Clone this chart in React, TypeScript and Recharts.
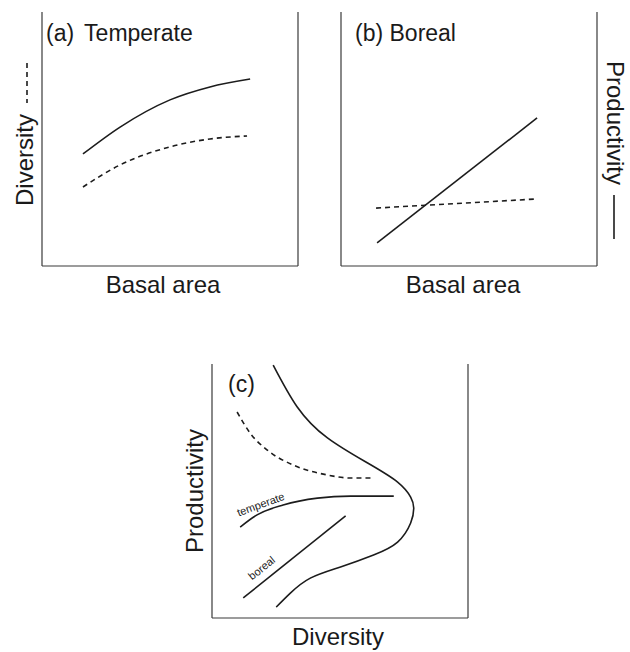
import React from "react";
import { LineChart, Line, XAxis, YAxis, ReferenceLine } from "recharts";

// panel (a) temperate – basal area on x, 0..100 scale
const tempBasal = [16.0, 30.5, 50.0, 65.6, 81.3];
const tempProductivity = [44.1, 54.7, 65.4, 70.5, 73.6];
const tempDivBasal = [16.0, 30.5, 50.0, 65.6, 80.1];
const tempDiversity = [31.1, 39.8, 46.9, 50.0, 51.2];

// panel (b) boreal
const borealBasal = [14.1, 76.6];
const borealProductivity = [9.1, 58.3];
const borealDivBasal = [13.7, 76.6];
const borealDiversity = [22.8, 26.4];

// panel (c) diversity (x) vs productivity (y)
const envDiversity = [23.9, 33.3, 45.1, 60.8, 72.5, 77.6, 78.8, 77.6, 72.5, 63.1, 50.2, 38.4, 30.6, 25.1];
const envProductivity = [99.6, 83.1, 70.9, 61.0, 53.5, 47.6, 43.3, 37.4, 29.9, 24.8, 20.1, 15.7, 9.8, 4.3];
const dashDiversity = [9.8, 14.9, 21.6, 31.8, 45.1, 54.1, 63.1];
const dashProductivity = [81.1, 72.8, 66.1, 60.2, 56.3, 55.1, 55.1];
const cTempDiversity = [11.0, 17.6, 27.8, 41.2, 54.1, 71.0];
const cTempProductivity = [35.8, 40.6, 44.5, 47.2, 48.0, 48.0];
const cBorealDiversity = [12.2, 52.2];
const cBorealProductivity = [7.9, 40.2];

const zip = (xs: number[], ys: number[]) => xs.map((x, i) => ({ x, y: ys[i] }));

const AXIS = "#3a3a3a";
const INK = "#1c1c1c";

type Series = {
  data: { x: number; y: number }[];
  dashed?: boolean;
  curve: "natural" | "linear" | "monotone";
};

function Panel({ left, top, series }: { left: number; top: number; series: Series[] }) {
  return (
    <div style={{ position: "absolute", left, top }}>
      <LineChart width={310} height={300} margin={{ top: 12, left: 42, right: 12, bottom: 34 }}>
        <XAxis type="number" dataKey="x" domain={[0, 100]} allowDataOverflow hide />
        <YAxis type="number" dataKey="y" domain={[0, 100]} allowDataOverflow hide />
        <ReferenceLine x={0} stroke={AXIS} strokeWidth={1.2} />
        <ReferenceLine x={100} stroke={AXIS} strokeWidth={1.2} />
        <ReferenceLine y={0} stroke={AXIS} strokeWidth={1.2} />
        {series.map((s, i) => (
          <Line
            key={i}
            data={s.data}
            dataKey="y"
            type={s.curve}
            stroke={INK}
            strokeWidth={1.6}
            strokeDasharray={s.dashed ? "5 4" : undefined}
            dot={false}
            activeDot={false}
            isAnimationActive={false}
          />
        ))}
      </LineChart>
    </div>
  );
}

export default function App() {
  const font = "'Liberation Sans', Arial, sans-serif";
  return (
    <div style={{ position: "absolute", left: 0, top: 0, width: 630, height: 652, background: "#fff", fontFamily: font }}>
      <Panel
        left={0}
        top={0}
        series={[
          { data: zip(tempBasal, tempProductivity), curve: "monotone" },
          { data: zip(tempDivBasal, tempDiversity), curve: "monotone", dashed: true },
        ]}
      />
      <Panel
        left={299}
        top={0}
        series={[
          { data: zip(borealBasal, borealProductivity), curve: "linear" },
          { data: zip(borealDivBasal, borealDiversity), curve: "linear", dashed: true },
        ]}
      />
      <Panel
        left={170}
        top={352}
        series={[
          // the envelope folds back on itself, so it needs a parametric curve
          { data: zip(envDiversity, envProductivity), curve: "natural" },
          { data: zip(dashDiversity, dashProductivity), curve: "monotone", dashed: true },
          { data: zip(cTempDiversity, cTempProductivity), curve: "monotone" },
          { data: zip(cBorealDiversity, cBorealProductivity), curve: "linear" },
        ]}
      />
      <svg width={630} height={652} style={{ position: "absolute", left: 0, top: 0, pointerEvents: "none" }} fontFamily={font} fill="#1a1a1a">
        <text x={46} y={41} fontSize={23} wordSpacing={4}>(a) Temperate</text>
        <text x={355} y={41} fontSize={23}>(b) Boreal</text>
        <text x={228} y={392} fontSize={23}>(c)</text>

        <text x={163} y={293} fontSize={24} textAnchor="middle">Basal area</text>
        <text x={463} y={293} fontSize={24} textAnchor="middle">Basal area</text>
        <text x={338} y={645} fontSize={24} textAnchor="middle">Diversity</text>

        <text transform="translate(33,160) rotate(-90)" fontSize={24} textAnchor="middle">Diversity</text>
        <line x1={27} y1={63} x2={27} y2={103} stroke={INK} strokeWidth={1.6} strokeDasharray="5 4" />

        <text transform="translate(607,123) rotate(90)" fontSize={24} textAnchor="middle">Productivity</text>
        <line x1={614} y1={195} x2={614} y2={239} stroke={INK} strokeWidth={1.6} />

        <text transform="translate(203,491) rotate(-90)" fontSize={24} textAnchor="middle">Productivity</text>

        <text transform="translate(262,508) rotate(-20)" fontSize={11} textAnchor="middle">temperate</text>
        <text transform="translate(264,571) rotate(-39)" fontSize={11} textAnchor="middle">boreal</text>
      </svg>
    </div>
  );
}
